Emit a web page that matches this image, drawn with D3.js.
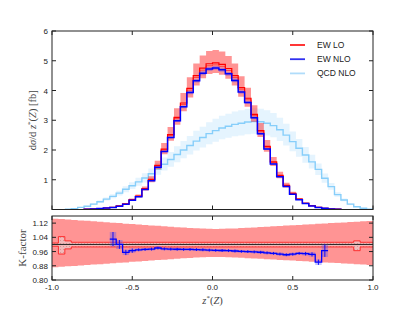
<!DOCTYPE html>
<html><head><meta charset="utf-8">
<script src="https://cdn.jsdelivr.net/npm/d3@7"></script>
<style>html,body{margin:0;padding:0;background:#fff;}</style>
</head><body>
<svg id="c" width="415" height="312"></svg>
<script>
// ---- data ----
const binEdges = [-1.00,-0.96,-0.92,-0.88,-0.84,-0.80,-0.76,-0.72,-0.68,-0.64,-0.60,-0.56,-0.52,-0.48,-0.44,-0.40,-0.36,-0.32,-0.28,-0.24,-0.20,-0.16,-0.12,-0.08,-0.04,0.00,0.04,0.08,0.12,0.16,0.20,0.24,0.28,0.32,0.36,0.40,0.44,0.48,0.52,0.56,0.60,0.64,0.68,0.72,0.76,0.80,0.84,0.88,0.92,0.96,1.00];
const ewLO = [0,0,0,0,0,0.01,0.02,0.03,0.05,0.07,0.12,0.19,0.33,0.45,0.70,1.01,1.48,2.03,2.52,3.10,3.58,4.07,4.50,4.75,4.90,4.93,4.88,4.74,4.50,4.10,3.74,3.20,2.65,2.12,1.60,1.15,0.81,0.54,0.35,0.21,0.13,0.075,0.042,0.021,0.01,0,0,0,0,0];
const ewNLO = [0,0,0,0,0,0.01,0.02,0.03,0.05,0.07,0.11,0.18,0.31,0.43,0.67,0.97,1.42,1.95,2.42,2.98,3.45,3.93,4.33,4.58,4.72,4.76,4.70,4.56,4.34,3.95,3.60,3.08,2.55,2.03,1.53,1.10,0.77,0.51,0.33,0.20,0.12,0.07,0.04,0.02,0.01,0,0,0,0,0];
const qcdNLO = [0,0,0.01,0.03,0.07,0.11,0.18,0.26,0.35,0.44,0.55,0.68,0.80,0.93,1.06,1.20,1.36,1.52,1.68,1.85,2.00,2.15,2.30,2.42,2.55,2.65,2.74,2.80,2.86,2.90,2.94,2.96,2.95,2.90,2.82,2.68,2.50,2.28,2.06,1.83,1.60,1.35,1.05,0.77,0.50,0.32,0.18,0.09,0.04,0.01];
const qcdHi = [0,0,0.012,0.035,0.08,0.13,0.21,0.30,0.40,0.51,0.63,0.78,0.92,1.07,1.22,1.38,1.56,1.75,1.93,2.13,2.30,2.47,2.65,2.78,2.93,3.05,3.15,3.22,3.29,3.34,3.38,3.40,3.39,3.34,3.24,3.08,2.88,2.62,2.37,2.10,1.84,1.55,1.21,0.89,0.58,0.37,0.21,0.10,0.046,0.012];
const qcdLo = [0,0,0.009,0.026,0.06,0.095,0.155,0.22,0.30,0.38,0.47,0.58,0.69,0.80,0.91,1.03,1.17,1.31,1.44,1.59,1.72,1.85,1.98,2.08,2.19,2.28,2.36,2.41,2.46,2.49,2.53,2.55,2.54,2.49,2.43,2.30,2.15,1.96,1.77,1.57,1.38,1.16,0.90,0.66,0.43,0.28,0.155,0.077,0.034,0.009];
// K-factor panel: LO scale band, LO stat band, NLO/LO ratio
const scaleHi = [1.145,1.143,1.140,1.138,1.135,1.133,1.130,1.128,1.125,1.122,1.120,1.117,1.115,1.112,1.110,1.107,1.105,1.102,1.100,1.097,1.095,1.093,1.091,1.089,1.088,1.087,1.088,1.089,1.090,1.092,1.094,1.096,1.098,1.100,1.102,1.104,1.106,1.108,1.110,1.112,1.114,1.116,1.118,1.120,1.122,1.124,1.126,1.128,1.130,1.132];
const scaleLo = [0.872,0.874,0.877,0.879,0.882,0.884,0.887,0.889,0.892,0.894,0.897,0.899,0.902,0.904,0.907,0.909,0.912,0.914,0.917,0.919,0.922,0.924,0.926,0.928,0.929,0.930,0.929,0.928,0.927,0.925,0.923,0.921,0.919,0.917,0.915,0.913,0.911,0.909,0.907,0.905,0.903,0.901,0.899,0.897,0.895,0.893,0.891,0.889,0.887,0.885];
const statHi = [1.008,1.044,1.020,1.012,1.012,1.012,1.012,1.012,1.012,1.012,1.012,1.012,1.012,1.012,1.012,1.012,1.012,1.012,1.012,1.012,1.012,1.012,1.012,1.012,1.012,1.012,1.012,1.012,1.012,1.012,1.012,1.012,1.012,1.012,1.012,1.012,1.012,1.012,1.012,1.012,1.012,1.012,1.012,1.012,1.012,1.012,1.012,1.020,1.012,1.012];
const statLo = [0.990,0.946,0.975,0.986,0.986,0.986,0.986,0.986,0.986,0.986,0.986,0.986,0.986,0.986,0.986,0.986,0.986,0.986,0.986,0.986,0.986,0.986,0.986,0.986,0.986,0.986,0.986,0.986,0.986,0.986,0.986,0.986,0.986,0.986,0.986,0.986,0.986,0.986,0.986,0.986,0.986,0.986,0.986,0.986,0.986,0.986,0.986,0.965,0.986,0.986];
const kNLO = [null,null,null,null,null,null,null,null,null,1.030,1.000,0.955,0.965,0.970,0.972,0.974,0.980,0.975,0.974,0.973,0.972,0.972,0.971,0.970,0.968,0.967,0.966,0.965,0.963,0.961,0.960,0.958,0.956,0.953,0.950,0.946,0.942,0.945,0.950,0.948,0.944,0.900,0.965,null,null,null,null,null,null,null];
const kErr = [0,0,0,0,0,0,0,0,0,0.040,0.025,0.015,0.012,0.008,0.008,0.008,0.008,0.008,0.008,0.008,0.008,0.008,0.008,0.008,0.008,0.008,0.008,0.008,0.008,0.008,0.008,0.008,0.008,0.008,0.008,0.008,0.008,0.008,0.008,0.010,0.012,0.015,0.035,0,0,0,0,0,0,0];
const xTicks = [-1.0,-0.5,0.0,0.5,1.0];
const xTickLabels = ["-1.0","-0.5","0.0","0.5","1.0"];
const yTicksTop = [1,2,3,4,5,6];
const yTicksBot = [0.80,0.88,0.96,1.04,1.12];
const legendNames = ["EW LO","EW NLO","QCD NLO"];
const legendColors = ["#ff2020","#3030f0","#b0dcfa"];

// ---- layout ----
const svg = d3.select("#c");
const L = 52, R = 373, T1 = 31, B1 = 209.5, T2 = 216, B2 = 280;
const x = d3.scaleLinear().domain([-1,1]).range([L,R]);
const y1 = d3.scaleLinear().domain([0,6]).range([B1,T1]);
const y2 = d3.scaleLinear().domain([0.8,1.16]).range([B2,T2]);
const tickFont = "'Liberation Sans', Arial, sans-serif";
const serif = "'Liberation Serif', 'DejaVu Serif', serif";

const defs = svg.append("defs");
defs.selectAll("clipPath").data([["c1",T1,B1],["c2",T2,B2]]).join("clipPath")
  .attr("id",d=>d[0]).append("rect").attr("x",L).attr("y",d=>d[1]).attr("width",R-L).attr("height",d=>d[2]-d[1]);
const pat = defs.append("pattern").attr("id","hatch").attr("patternUnits","userSpaceOnUse").attr("width",3).attr("height",3);
pat.append("rect").attr("width",3).attr("height",3).attr("fill","#f1b9b9");
pat.append("rect").attr("width",1).attr("height",1).attr("fill","#d89494");

function range(vals){ let a=-1,b=-1; vals.forEach((v,i)=>{ if(v!=null && v!==0){ if(a<0)a=i; b=i; } }); return [a,b]; }
function stepLine(vals, ys, close){
  const [a,b] = range(vals); const pts=[];
  if(close) pts.push([binEdges[a],0]);
  for(let i=a;i<=b;i++) pts.push([binEdges[i],vals[i]]);
  pts.push([binEdges[b+1],vals[b]]);
  if(close) pts.push([binEdges[b+1],0]);
  return d3.line().x(d=>x(d[0])).y(d=>ys(d[1])).curve(d3.curveStepAfter)(pts);
}
function stepArea(lo, hi, ys, a, b){
  const pts=[];
  for(let i=a;i<=b;i++) pts.push([binEdges[i],lo[i],hi[i]]);
  pts.push([binEdges[b+1],lo[b],hi[b]]);
  return d3.area().x(d=>x(d[0])).y0(d=>ys(d[1])).y1(d=>ys(d[2])).curve(d3.curveStepAfter)(pts);
}

// ---- top panel ----
const g1 = svg.append("g").attr("clip-path","url(#c1)");
g1.append("path").attr("d",stepArea(qcdLo,qcdHi,y1,2,49)).attr("fill","#87cefa").attr("opacity",0.22);
g1.append("path").attr("d",stepLine(qcdNLO,y1,false)).attr("fill","none").attr("stroke","#87cefa").attr("stroke-width",1.4);
const [ea,eb] = range(ewLO);
const loHiArr = ewLO.map((v,i)=>v*scaleHi[i]), loLoArr = ewLO.map((v,i)=>v*scaleLo[i]);
g1.append("path").attr("d",stepArea(loLoArr,loHiArr,y1,ea,eb)).attr("fill","#ff0000").attr("opacity",0.42);
const stHi = ewLO.map((v,i)=>v*statHi[i]), stLo = ewLO.map((v,i)=>v*statLo[i]);
g1.append("path").attr("d",stepLine(stLo,y1,false)).attr("fill","none").attr("stroke","#ff2020").attr("stroke-width",0.7);
g1.append("path").attr("d",stepLine(ewLO,y1,true)).attr("fill","none").attr("stroke","#ff0000").attr("stroke-width",1.2);
const nHi = ewNLO.map((v,i)=>v*(1+kErr[i]+0.006)), nLo = ewNLO.map((v,i)=>v*(1-kErr[i]-0.006));
g1.append("path").attr("d",stepArea(nLo,nHi,y1,ea,eb)).attr("fill","#3030ff").attr("opacity",0.3);
g1.append("path").attr("d",stepLine(ewNLO,y1,true)).attr("fill","none").attr("stroke","#0000ff").attr("stroke-width",1.5);

// ---- bottom panel ----
const g2 = svg.append("g").attr("clip-path","url(#c2)");
g2.append("path").attr("d",stepArea(scaleLo,scaleHi,y2,0,49)).attr("fill","#ff0000").attr("opacity",0.42);
g2.append("path").attr("d",stepArea(statLo,statHi,y2,0,49)).attr("fill","url(#hatch)");
g2.append("path").attr("d",stepLine(statHi,y2,false)).attr("fill","none").attr("stroke","#ff2020").attr("stroke-width",0.9);
g2.append("path").attr("d",stepLine(statLo,y2,false)).attr("fill","none").attr("stroke","#ff2020").attr("stroke-width",0.9);
g2.append("line").attr("x1",L).attr("x2",R).attr("y1",y2(1)).attr("y2",y2(1)).attr("stroke","#222").attr("stroke-width",1);
const [ka,kb] = range(kNLO);
const kHi = kNLO.map((v,i)=>v==null?null:v+kErr[i]), kLo = kNLO.map((v,i)=>v==null?null:v-kErr[i]);
g2.append("path").attr("d",stepArea(kLo,kHi,y2,ka,kb)).attr("fill","#5050ff").attr("opacity",0.35);
g2.append("path").attr("d",stepLine(kNLO,y2,false)).attr("fill","none").attr("stroke","#0000ff").attr("stroke-width",1.3);
g2.selectAll("line.err").data(d3.range(ka,kb+1)).join("line").attr("class","err")
  .attr("x1",i=>x((binEdges[i]+binEdges[i+1])/2)).attr("x2",i=>x((binEdges[i]+binEdges[i+1])/2))
  .attr("y1",i=>y2(kLo[i])).attr("y2",i=>y2(kHi[i])).attr("stroke","#0000ff").attr("stroke-width",0.9);

// ---- frames, ticks ----
function frame(top,bot){
  svg.append("rect").attr("x",L).attr("y",top).attr("width",R-L).attr("height",bot-top)
    .attr("fill","none").attr("stroke","#222").attr("stroke-width",1);
}
frame(T1,B1); frame(T2,B2);
const tl = 4;
yTicksTop.forEach(v=>{
  svg.append("line").attr("x1",L).attr("x2",L+tl).attr("y1",y1(v)).attr("y2",y1(v)).attr("stroke","#222");
  svg.append("line").attr("x1",R).attr("x2",R-tl).attr("y1",y1(v)).attr("y2",y1(v)).attr("stroke","#222");
  svg.append("text").attr("x",L-4).attr("y",y1(v)+3).attr("text-anchor","end").attr("font-family",tickFont).attr("font-size",8).attr("fill","#222").text(v);
});
xTicks.forEach(v=>{
  [[T1,1],[B1,-1],[T2,1],[B2,-1]].forEach(([yy,dir])=>{
    svg.append("line").attr("x1",x(v)).attr("x2",x(v)).attr("y1",yy).attr("y2",yy+dir*tl).attr("stroke","#222");
  });
});
yTicksBot.forEach(v=>{
  svg.append("line").attr("x1",L).attr("x2",L+tl).attr("y1",y2(v)).attr("y2",y2(v)).attr("stroke","#222");
  svg.append("line").attr("x1",R).attr("x2",R-tl).attr("y1",y2(v)).attr("y2",y2(v)).attr("stroke","#222");
  svg.append("text").attr("x",L-4).attr("y",y2(v)+3).attr("text-anchor","end").attr("font-family",tickFont).attr("font-size",8).attr("fill","#222").text(v.toFixed(2));
});
xTicks.forEach((v,i)=>{
  svg.append("text").attr("x",x(v)).attr("y",B2+10).attr("text-anchor","middle").attr("font-family",tickFont).attr("font-size",8).attr("fill","#222").text(xTickLabels[i]);
});

// ---- axis labels ----
const yl = svg.append("text").attr("transform",`translate(36,${(T1+B1)/2}) rotate(-90)`).attr("text-anchor","middle")
  .attr("font-family",serif).attr("font-size",10.5).attr("fill","#444");
yl.append("tspan").text("d");
yl.append("tspan").attr("font-style","italic").text("σ");
yl.append("tspan").text("/d ");
yl.append("tspan").attr("font-style","italic").text("z");
yl.append("tspan").attr("font-size",7).attr("dy",-4).text("*");
yl.append("tspan").attr("dy",4).text("(");
yl.append("tspan").attr("font-style","italic").text("Z");
yl.append("tspan").text(") [fb]");

svg.append("text").attr("transform",`translate(26,${(T2+B2)/2}) rotate(-90)`).attr("text-anchor","middle")
  .attr("font-family",serif).attr("font-size",11).attr("fill","#444").text("K-factor");

const xl = svg.append("text").attr("x",(L+R)/2).attr("y",304).attr("text-anchor","middle")
  .attr("font-family",serif).attr("font-size",10.5).attr("fill","#444");
xl.append("tspan").attr("font-style","italic").text("z");
xl.append("tspan").attr("font-size",7).attr("dy",-4).text("*");
xl.append("tspan").attr("dy",4).text("(");
xl.append("tspan").attr("font-style","italic").text("Z");
xl.append("tspan").text(")");

// ---- legend ----
legendNames.forEach((n,i)=>{
  const yy = 45 + i*14.2;
  svg.append("line").attr("x1",290).attr("x2",305).attr("y1",yy).attr("y2",yy).attr("stroke",legendColors[i]).attr("stroke-width",1.8);
  svg.append("text").attr("x",317).attr("y",yy+3).attr("font-family",tickFont).attr("font-size",8.5).attr("fill","#222").text(n);
});
</script>
</body></html>
